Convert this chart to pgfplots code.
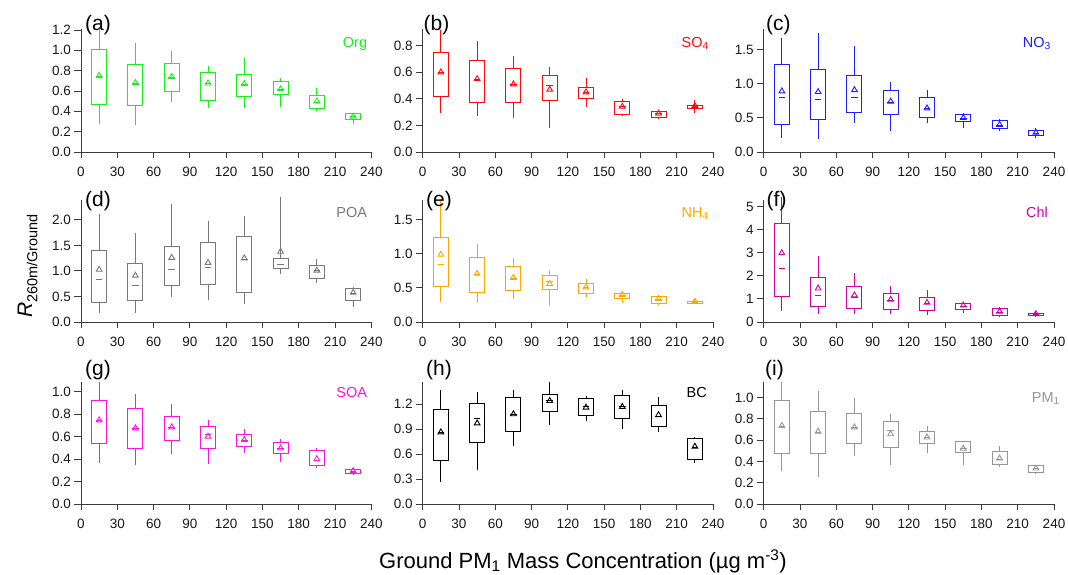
\documentclass[border=0pt]{standalone}
\usepackage{pgfplots}
\pgfplotsset{compat=1.18}
\usepackage{fontspec}
\setmainfont{Liberation Sans}
\definecolor{cOrg}{RGB}{25,240,25}
\definecolor{cSO}{RGB}{255,10,10}
\definecolor{cNO}{RGB}{30,30,255}
\definecolor{cPOA}{RGB}{120,120,120}
\definecolor{cNH}{RGB}{255,165,0}
\definecolor{cChl}{RGB}{210,0,160}
\definecolor{cSOA}{RGB}{255,20,220}
\definecolor{cBC}{RGB}{0,0,0}
\definecolor{cPM}{RGB}{150,150,150}
\definecolor{axc}{RGB}{60,60,60}
% box: left edge, right edge, position, lower whisker, lower quartile, median, upper quartile, upper whisker
\newcommand{\bx}[8]{%
  \addplot[mark=none] coordinates {(#1,#5) (#2,#5) (#2,#7) (#1,#7)} -- cycle;
  \addplot[mark=none] coordinates {(#3,#4) (#3,#5)};
  \addplot[mark=none] coordinates {(#3,#7) (#3,#8)};
  \addplot[only marks, mark=-, mark size=3.3pt] coordinates {(#3,#6)};
}
\newcommand{\lbl}{\fontsize{14.5}{16}\selectfont}
\pgfplotsset{
  panel/.style={
    scale only axis, width=290.3pt,
    xmin=0, xmax=240, ymin=0,
    axis lines=left, axis line style={-, draw=axc, line width=0.9pt},
    xtick={0,30,60,90,120,150,180,210,240},
    tick align=outside, major tick length=6.5pt,
    tick style={draw=axc, line width=0.9pt},
    ticklabel style={font=\fontsize{13.5}{15}\selectfont, text=black!90},
    xticklabel style={yshift=-5.5pt},
    /pgf/number format/assume math mode=true,
    yticklabel style={/pgf/number format/.cd, fixed, fixed zerofill, precision=1},
    clip=false,
    every axis plot/.append style={line width=1pt, line join=miter},
  },
  meanstyle/.style={only marks, mark=triangle, mark size=3.3pt, mark options={line width=0.9pt}},
}
\begin{document}
\begin{tikzpicture}
\path[use as bounding box] (0pt,0pt) rectangle (1068pt,575pt);

% (a) Org
\begin{axis}[panel, at={(81pt,423pt)}, anchor=south west, height=123pt, ymax=1.21,
  ytick={0,0.2,0.4,0.6,0.8,1.0,1.2}, every axis plot/.append style={color=cOrg}]
\bx{8.8}{21.2}{15}{0.28}{0.465}{0.74}{1.01}{1.21}
\bx{38.8}{51.2}{45}{0.27}{0.46}{0.67}{0.865}{1.075}
\bx{68.8}{81.2}{75}{0.495}{0.60}{0.73}{0.87}{0.99}
\bx{98.8}{111.2}{105}{0.43}{0.51}{0.67}{0.785}{0.85}
\bx{128.8}{141.2}{135}{0.43}{0.545}{0.66}{0.76}{0.92}
\bx{158.8}{171.2}{165}{0.44}{0.565}{0.61}{0.69}{0.725}
\bx{188.8}{201.2}{195}{0.40}{0.425}{0.49}{0.56}{0.63}
\bx{218.8}{231.2}{225}{0.28}{0.32}{0.345}{0.375}{0.38}
\addplot[meanstyle] coordinates {(15,0.75) (45,0.68) (75,0.74) (105,0.675) (135,0.67) (165,0.62) (195,0.50) (225,0.35)};
\node[anchor=north east, inner sep=0pt, text=cOrg, font=\lbl] at ([xshift=-4pt,yshift=-8pt]rel axis cs:1,1) {Org};
\end{axis}

% (b) SO4
\begin{axis}[panel, at={(422.7pt,423pt)}, anchor=south west, height=123pt, ymax=0.925,
  ytick={0,0.2,0.4,0.6,0.8}, every axis plot/.append style={color=cSO}]
\bx{8.8}{21.2}{15}{0.297}{0.415}{0.60}{0.75}{0.916}
\bx{38.8}{51.2}{45}{0.267}{0.375}{0.545}{0.69}{0.835}
\bx{68.8}{81.2}{75}{0.254}{0.37}{0.505}{0.63}{0.725}
\bx{98.8}{111.2}{105}{0.18}{0.385}{0.50}{0.576}{0.64}
\bx{128.8}{141.2}{135}{0.342}{0.405}{0.45}{0.486}{0.556}
\bx{158.8}{171.2}{165}{0.267}{0.284}{0.34}{0.38}{0.40}
\bx{188.8}{201.2}{195}{0.25}{0.262}{0.29}{0.304}{0.315}
\bx{218.8}{231.2}{225}{0.294}{0.325}{0.34}{0.35}{0.39}
\addplot[meanstyle] coordinates {(15,0.60) (45,0.55) (75,0.51) (105,0.47) (135,0.45) (165,0.342) (195,0.29) (225,0.347)};
\node[anchor=north east, inner sep=0pt, text=cSO, font=\lbl] at ([xshift=-4pt,yshift=-8pt]rel axis cs:1,1) {SO\textsubscript{4}};
\end{axis}

% (c) NO3
\begin{axis}[panel, at={(763.7pt,423pt)}, anchor=south west, height=123pt, ymax=1.8,
  ytick={0,0.5,1.0,1.5}, every axis plot/.append style={color=cNO}]
\bx{8.8}{21.2}{15}{0.20}{0.40}{0.80}{1.275}{1.667}
\bx{38.8}{51.2}{45}{0.186}{0.48}{0.77}{1.20}{1.74}
\bx{68.8}{81.2}{75}{0.417}{0.578}{0.80}{1.12}{1.55}
\bx{98.8}{111.2}{105}{0.31}{0.544}{0.72}{0.897}{1.02}
\bx{128.8}{141.2}{135}{0.417}{0.51}{0.63}{0.80}{0.907}
\bx{158.8}{171.2}{165}{0.35}{0.44}{0.49}{0.544}{0.57}
\bx{188.8}{201.2}{195}{0.31}{0.34}{0.39}{0.46}{0.485}
\bx{218.8}{231.2}{225}{0.20}{0.235}{0.275}{0.32}{0.35}
\addplot[meanstyle] coordinates {(15,0.89) (45,0.88) (75,0.907) (105,0.74) (135,0.64) (165,0.50) (195,0.40) (225,0.284)};
\node[anchor=north east, inner sep=0pt, text=cNO, font=\lbl] at ([xshift=-3pt,yshift=-8pt]rel axis cs:1,1) {NO\textsubscript{3}};
\end{axis}

% (d) POA
\begin{axis}[panel, at={(81pt,253pt)}, anchor=south west, height=122pt, ymax=2.39,
  ytick={0,0.5,1.0,1.5,2.0}, every axis plot/.append style={color=cPOA}]
\bx{8.8}{21.2}{15}{0.17}{0.38}{0.84}{1.40}{2.11}
\bx{38.8}{51.2}{45}{0.18}{0.42}{0.72}{1.14}{1.75}
\bx{68.8}{81.2}{75}{0.49}{0.706}{1.026}{1.47}{2.31}
\bx{98.8}{111.2}{105}{0.43}{0.725}{1.065}{1.55}{1.97}
\bx{128.8}{141.2}{135}{0.346}{0.57}{1.23}{1.667}{2.085}
\bx{158.8}{171.2}{165}{0.95}{1.04}{1.13}{1.235}{2.44}
\bx{188.8}{201.2}{195}{0.77}{0.856}{1.0}{1.10}{1.23}
\bx{218.8}{231.2}{225}{0.30}{0.43}{0.56}{0.66}{0.68}
\addplot[meanstyle] coordinates {(15,1.026) (45,0.91) (75,1.26) (105,1.16) (135,1.25) (165,1.38) (195,1.01) (225,0.575)};
\node[anchor=north east, inner sep=0pt, text=cPOA, font=\lbl] at ([xshift=-4pt,yshift=-7pt]rel axis cs:1,1) {POA};
\end{axis}

% (e) NH4
\begin{axis}[panel, at={(422.7pt,253pt)}, anchor=south west, height=122pt, ymax=1.79,
  ytick={0,0.5,1.0,1.5}, every axis plot/.append style={color=cNH}]
\bx{8.8}{21.2}{15}{0.30}{0.524}{0.84}{1.24}{1.80}
\bx{38.8}{51.2}{45}{0.275}{0.43}{0.70}{0.946}{1.147}
\bx{68.8}{81.2}{75}{0.343}{0.46}{0.64}{0.814}{0.946}
\bx{98.8}{111.2}{105}{0.24}{0.48}{0.59}{0.676}{0.765}
\bx{128.8}{141.2}{135}{0.37}{0.42}{0.50}{0.564}{0.63}
\bx{158.8}{171.2}{165}{0.284}{0.35}{0.39}{0.42}{0.446}
\bx{188.8}{201.2}{195}{0.255}{0.27}{0.33}{0.37}{0.38}
\bx{218.8}{231.2}{225}{0.265}{0.275}{0.29}{0.30}{0.34}
\addplot[meanstyle] coordinates {(15,0.99) (45,0.71) (75,0.65) (105,0.56) (135,0.51) (165,0.40) (195,0.34) (225,0.30)};
\node[anchor=north east, inner sep=0pt, text=cNH, font=\lbl] at ([xshift=-4pt,yshift=-7pt]rel axis cs:1,1) {NH\textsubscript{4}};
\end{axis}

% (f) Chl
\begin{axis}[panel, at={(763.7pt,253pt)}, anchor=south west, height=122pt, ymax=5.29,
  ytick={0,1,2,3,4,5}, yticklabel style={/pgf/number format/.cd, fixed, precision=0},
  every axis plot/.append style={color=cChl}]
\bx{8.8}{21.2}{15}{0.49}{1.10}{2.31}{4.28}{5.40}
\bx{38.8}{51.2}{45}{0.35}{0.66}{1.14}{1.92}{2.85}
\bx{68.8}{81.2}{75}{0.33}{0.59}{1.07}{1.52}{2.11}
\bx{98.8}{111.2}{105}{0.33}{0.55}{0.95}{1.23}{1.55}
\bx{128.8}{141.2}{135}{0.29}{0.48}{0.82}{1.05}{1.40}
\bx{158.8}{171.2}{165}{0.40}{0.56}{0.68}{0.79}{0.88}
\bx{188.8}{201.2}{195}{0.22}{0.26}{0.42}{0.58}{0.66}
\bx{218.8}{231.2}{225}{0.23}{0.275}{0.34}{0.375}{0.46}
\addplot[meanstyle] coordinates {(15,2.99) (45,1.46) (75,1.16) (105,0.97) (135,0.84) (165,0.72) (195,0.45) (225,0.35)};
\node[anchor=north east, inner sep=0pt, text=cChl, font=\lbl] at ([xshift=-6pt,yshift=-7pt]rel axis cs:1,1) {Chl};
\end{axis}

% (g) SOA
\begin{axis}[panel, at={(81pt,71pt)}, anchor=south west, height=121.5pt, ymax=1.08,
  ytick={0,0.2,0.4,0.6,0.8,1.0}, every axis plot/.append style={color=cSOA}]
\bx{8.8}{21.2}{15}{0.368}{0.534}{0.74}{0.917}{1.08}
\bx{38.8}{51.2}{45}{0.344}{0.49}{0.67}{0.846}{0.976}
\bx{68.8}{81.2}{75}{0.442}{0.56}{0.68}{0.777}{0.893}
\bx{98.8}{111.2}{105}{0.356}{0.496}{0.617}{0.688}{0.748}
\bx{128.8}{141.2}{135}{0.45}{0.513}{0.565}{0.614}{0.665}
\bx{158.8}{171.2}{165}{0.37}{0.45}{0.49}{0.546}{0.576}
\bx{188.8}{201.2}{195}{0.32}{0.338}{0.39}{0.475}{0.495}
\bx{218.8}{231.2}{225}{0.26}{0.273}{0.29}{0.31}{0.32}
\addplot[meanstyle] coordinates {(15,0.745) (45,0.674) (75,0.683) (105,0.60) (135,0.57) (165,0.495) (195,0.40) (225,0.294)};
\node[anchor=north east, inner sep=0pt, text=cSOA, font=\lbl] at ([xshift=-4pt,yshift=-5pt]rel axis cs:1,1) {SOA};
\end{axis}

% (h) BC
\begin{axis}[panel, at={(422.7pt,71pt)}, anchor=south west, height=121.5pt, ymax=1.46,
  ytick={0,0.3,0.6,0.9,1.2}, every axis plot/.append style={color=cBC}]
\bx{8.8}{21.2}{15}{0.27}{0.526}{0.86}{1.13}{1.364}
\bx{38.8}{51.2}{45}{0.413}{0.738}{1.03}{1.208}{1.344}
\bx{68.8}{81.2}{75}{0.70}{0.87}{1.07}{1.28}{1.368}
\bx{98.8}{111.2}{105}{0.95}{1.11}{1.24}{1.316}{1.46}
\bx{128.8}{141.2}{135}{0.995}{1.063}{1.17}{1.268}{1.30}
\bx{158.8}{171.2}{165}{0.907}{1.03}{1.17}{1.30}{1.364}
\bx{188.8}{201.2}{195}{0.867}{0.93}{1.05}{1.18}{1.284}
\bx{218.8}{231.2}{225}{0.49}{0.54}{0.68}{0.786}{0.80}
\addplot[meanstyle] coordinates {(15,0.863) (45,0.97) (75,1.08) (105,1.24) (135,1.16) (165,1.168) (195,1.07) (225,0.69)};
\node[anchor=north east, inner sep=0pt, text=cBC, font=\lbl] at ([xshift=-6pt,yshift=-5pt]rel axis cs:1,1) {BC};
\end{axis}

% (i) PM1
\begin{axis}[panel, at={(763.7pt,71pt)}, anchor=south west, height=121.5pt, ymax=1.14,
  ytick={0,0.2,0.4,0.6,0.8,1.0}, every axis plot/.append style={color=cPM}]
\bx{8.8}{21.2}{15}{0.31}{0.475}{0.73}{0.97}{1.14}
\bx{38.8}{51.2}{45}{0.256}{0.47}{0.67}{0.87}{1.06}
\bx{68.8}{81.2}{75}{0.453}{0.566}{0.715}{0.853}{0.997}
\bx{98.8}{111.2}{105}{0.366}{0.528}{0.69}{0.775}{0.84}
\bx{128.8}{141.2}{135}{0.475}{0.563}{0.62}{0.68}{0.73}
\bx{158.8}{171.2}{165}{0.366}{0.4875}{0.52}{0.584}{0.59}
\bx{188.8}{201.2}{195}{0.347}{0.37}{0.42}{0.49}{0.54}
\bx{218.8}{231.2}{225}{0.284}{0.297}{0.33}{0.36}{0.37}
\addplot[meanstyle] coordinates {(15,0.734) (45,0.68) (75,0.72) (105,0.656) (135,0.625) (165,0.52) (195,0.428) (225,0.334)};
\node[anchor=north east, inner sep=0pt, text=cPM, font=\lbl] at ([xshift=6pt,yshift=-10pt]rel axis cs:1,1) {PM\textsubscript{1}};
\end{axis}

% panel letters
\begin{scope}[every node/.style={anchor=base west, inner sep=0pt, font=\fontsize{21}{24}\selectfont}]
\node at (85pt,544pt) {(a)};
\node at (423.5pt,544pt) {(b)};
\node at (766pt,544pt) {(c)};
\node at (85pt,368pt) {(d)};
\node at (426pt,368pt) {(e)};
\node at (766.5pt,368pt) {(f)};
\node at (85pt,199pt) {(g)};
\node at (426pt,199pt) {(h)};
\node at (765pt,199pt) {(i)};
\end{scope}

% axis titles
\node[rotate=90, anchor=base, inner sep=0pt] at (32pt,309pt)
  {\fontsize{21}{24}\selectfont\textit{R}\raisebox{-0.25em}{\fontsize{14.5}{16}\selectfont 260m/Ground}};
\node[anchor=base, inner sep=0pt, font=\fontsize{22}{26}\selectfont] at (583pt,6.7pt)
  {Ground PM\textsubscript{1} Mass Concentration (µg m\textsuperscript{-3})};
\end{tikzpicture}
\end{document}
